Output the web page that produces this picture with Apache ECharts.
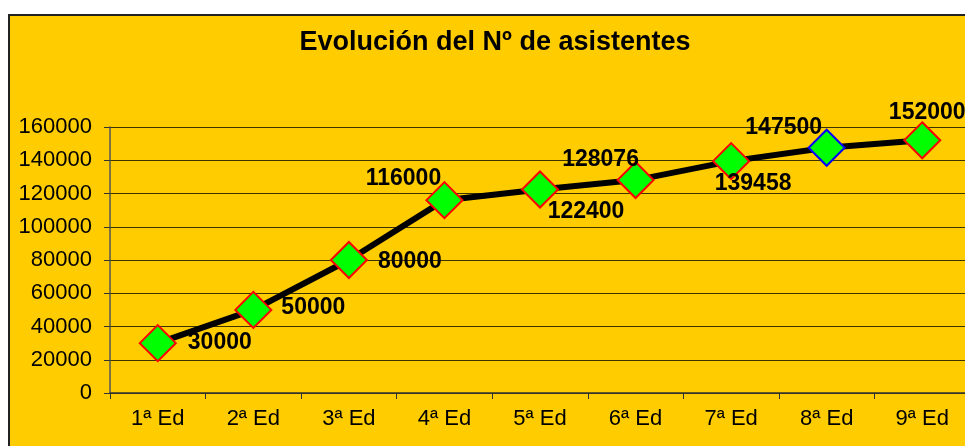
<!DOCTYPE html>
<html lang="es">
<head>
    <meta charset="UTF-8">
    <title>Evolución del Nº de asistentes</title>
    <script src="https://cdn.jsdelivr.net/npm/echarts@6/dist/echarts.min.js"></script>
    <style>
        html, body { margin: 0; padding: 0; background: #fff; overflow: hidden; }
        /* el grafico original queda recortado por la derecha */
        #main { width: 975px; height: 446px; }
    </style>
</head>
<body>
<div id="main"></div>
<script>
    // datos
    var ediciones = ['1ª Ed', '2ª Ed', '3ª Ed', '4ª Ed', '5ª Ed', '6ª Ed', '7ª Ed', '8ª Ed', '9ª Ed'];
    var asistentes = [30000, 50000, 80000, 116000, 122400, 128076, 139458, 147500, 152000];

    // desplazamiento de cada etiqueta respecto al punto
    var offsets = [[62, 0], [60, -2], [61, 2], [-41, -21], [46, 22], [-35, -20], [22, 23], [-43, -20], [5, -28]];

    var serieData = asistentes.map(function (v, i) {
        return {
            value: v,
            itemStyle: { borderColor: i === 7 ? '#0000ff' : '#ff0000' },
            label: { offset: offsets[i] }
        };
    });

    var myChart = echarts.init(document.getElementById('main'));
    myChart.setOption({
        backgroundColor: '#ffffff',
        animation: false,
        graphic: [{
            type: 'rect',
            z: -10,
            shape: { x: 9, y: 15, width: 980, height: 440 },
            style: { fill: '#FFCC00', stroke: '#222222', lineWidth: 2 }
        }],
        title: {
            text: 'Evolución del Nº de asistentes',
            left: 490,
            textAlign: 'center',
            top: 24,
            textStyle: { fontFamily: 'Liberation Sans, Arial', fontWeight: 'bold', fontSize: 27, color: '#000' }
        },
        grid: { left: 110, width: 860, top: 127, bottom: 53, containLabel: false },
        xAxis: {
            type: 'category',
            data: ediciones,
            boundaryGap: true,
            axisLine: { lineStyle: { color: '#333', width: 1.5 } },
            axisTick: { show: true, length: 6, lineStyle: { color: '#333' } },
            axisLabel: { margin: 15, color: '#000', fontSize: 22, fontFamily: 'Liberation Sans, Arial', interval: 0 },
            splitLine: { show: false }
        },
        yAxis: {
            type: 'value',
            min: 0,
            max: 160000,
            interval: 20000,
            axisLine: { show: true, lineStyle: { color: '#555', width: 1.5 } },
            axisTick: { show: true, length: 6, lineStyle: { color: '#333' } },
            axisLabel: {
                margin: 18, color: '#000', fontSize: 22, fontFamily: 'Liberation Sans, Arial',
                formatter: function (v) { return String(v); }
            },
            splitLine: { lineStyle: { color: '#3d3300', width: 1 } }
        },
        series: [{
            type: 'line',
            data: serieData,
            symbol: 'diamond',
            symbolSize: 36,
            lineStyle: { color: '#000', width: 6 },
            itemStyle: { color: '#00ff00', borderWidth: 2 },
            label: {
                show: true,
                position: 'inside',
                color: '#000',
                fontWeight: 'bold',
                fontSize: 23,
                fontFamily: 'Liberation Sans, Arial'
            },
            z: 3
        }]
    });
</script>
</body>
</html>
